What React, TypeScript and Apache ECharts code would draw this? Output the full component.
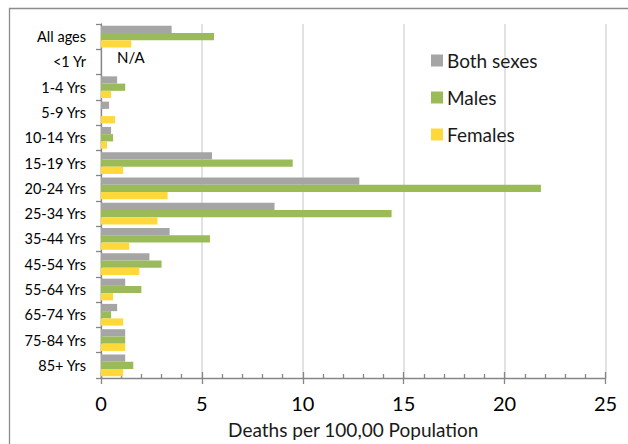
import React, { useEffect, useRef } from "react";
import * as echarts from "echarts";

const ageGroups = [
  "All ages", "<1 Yr", "1-4 Yrs", "5-9 Yrs", "10-14 Yrs", "15-19 Yrs", "20-24 Yrs",
  "25-34 Yrs", "35-44 Yrs", "45-54 Yrs", "55-64 Yrs", "65-74 Yrs", "75-84 Yrs", "85+ Yrs",
];
const bothSexes = [3.5, null, 0.8, 0.4, 0.5, 5.5, 12.8, 8.6, 3.4, 2.4, 1.2, 0.8, 1.2, 1.2];
const males = [5.6, null, 1.2, 0, 0.6, 9.5, 21.8, 14.4, 5.4, 3.0, 2.0, 0.5, 1.2, 1.6];
const females = [1.5, null, 0.5, 0.7, 0.3, 1.1, 3.3, 2.8, 1.4, 1.9, 0.6, 1.1, 1.2, 1.1];
const xTicks = [0, 5, 10, 15, 20, 25];
const naText = "N/A";
const xTitle = "Deaths per 100,00 Population";

const FONT = "Lato, 'Noto Sans', sans-serif";

export default function App() {
  const ref = useRef<HTMLDivElement>(null);
  useEffect(() => {
    if (!ref.current) return;
    const chart = echarts.init(ref.current, null, { renderer: "svg" });
    const toData = (arr: (number | null)[], withNA: boolean) =>
      arr.map((v) =>
        v === null
          ? withNA
            ? { value: 0, label: { show: true, formatter: naText } }
            : { value: 0 }
          : v
      );
    const xMin = xTicks[0];
    const xMax = xTicks[xTicks.length - 1];
    const xInterval = xTicks[1] - xTicks[0];
    chart.setOption({
      animation: false,
      backgroundColor: "#ffffff",
      textStyle: { fontFamily: FONT },
      graphic: [
        {
          type: "rect",
          left: 7,
          top: 6,
          shape: { width: 700, height: 500 },
          style: { fill: "none", stroke: "#8c8c8c", lineWidth: 1.3 },
          silent: true,
          z: -10,
        },
      ],
      legend: {
        orient: "vertical",
        left: 426,
        top: 46,
        itemWidth: 12,
        itemHeight: 12,
        itemGap: 18,
        icon: "rect",
        textStyle: { fontFamily: FONT, fontSize: 19, color: "#1a1a1a", padding: [0, 0, 0, -1] },
        data: ["Both sexes", "Males", "Females"],
      },
      grid: { left: 101, top: 24, right: 22.5, bottom: 62, containLabel: false },
      xAxis: [
        {
          type: "value",
          min: xMin,
          max: xMax,
          interval: xInterval,
          position: "bottom",
          axisLine: { show: true, lineStyle: { color: "#868686", width: 1.3 } },
          axisTick: { show: true, inside: false, length: 6, lineStyle: { color: "#868686", width: 1.3 } },
          splitLine: { show: true, lineStyle: { color: "#d9d9d9", width: 1.5 } },
          axisLabel: { fontFamily: FONT, fontSize: 20, color: "#000", margin: 15 },
          name: xTitle,
          nameLocation: "middle",
          nameGap: 42,
          nameTextStyle: { fontFamily: FONT, fontSize: 19, color: "#1a1a1a" },
        },
        {
          type: "value",
          min: xMin,
          max: xMax,
          interval: xInterval,
          position: "bottom",
          axisLine: { show: false },
          axisTick: { show: true, inside: true, length: 6, lineStyle: { color: "#868686", width: 1.3 } },
          minorTick: { show: true, splitNumber: 5, length: 4, lineStyle: { color: "#868686", width: 1.3 } },
          splitLine: { show: false },
          axisLabel: { show: false },
        },
      ],
      yAxis: {
        type: "category",
        inverse: true,
        data: ageGroups,
        axisLine: { show: true, lineStyle: { color: "#868686", width: 1.3 } },
        axisTick: { show: true, inside: false, length: 5, alignWithLabel: false, lineStyle: { color: "#868686", width: 1.3 } },
        axisLabel: { fontFamily: FONT, fontSize: 14.5, color: "#000", margin: 15 },
        splitLine: { show: false },
      },
      series: [
        {
          name: "Both sexes",
          type: "bar",
          data: toData(bothSexes, true),
          itemStyle: { color: "#a5a5a5" },
          barGap: "0%",
          barCategoryGap: "14%",
          label: { show: false, position: "right", distance: 16, fontFamily: FONT, fontSize: 15, color: "#000", offset: [0, 2] },
        },
        {
          name: "Males",
          type: "bar",
          data: toData(males, false),
          itemStyle: { color: "#9bbb59" },
          barGap: "0%",
          barCategoryGap: "14%",
        },
        {
          name: "Females",
          type: "bar",
          data: toData(females, false),
          itemStyle: { color: "#ffd93b" },
          barGap: "0%",
          barCategoryGap: "14%",
        },
      ],
    });
    return () => chart.dispose();
  }, []);
  return (
    <div
      ref={ref}
      style={{ position: "fixed", left: 0, top: 0, width: 628, height: 444, background: "#fff" }}
    />
  );
}
